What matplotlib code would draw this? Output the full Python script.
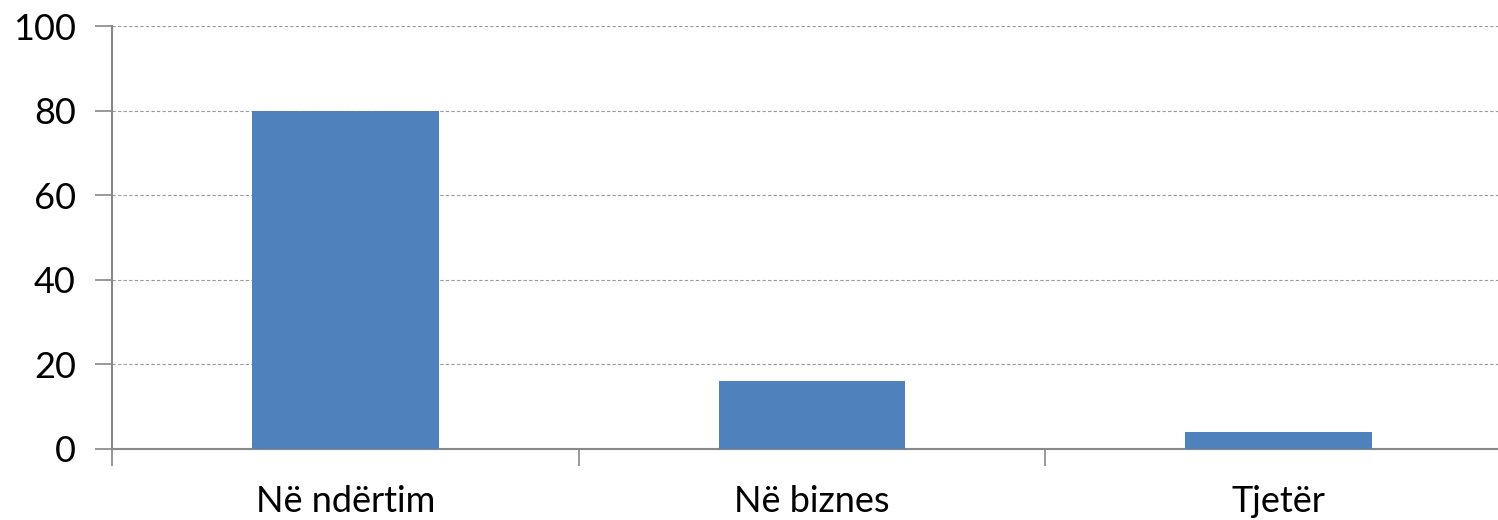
import numpy as np
import matplotlib.pyplot as plt

categories = ['Në ndërtim', 'Në biznes', 'Tjetër']
values = [80, 16, 4]
yticks = [0, 20, 40, 60, 80, 100]

plt.rcParams['font.family'] = ['Lato', 'DejaVu Sans']

fig = plt.figure(figsize=(14.98, 5.2), dpi=100)
ax = fig.add_axes([112 / 1498, 1 - 449 / 520, 1400 / 1498, 423 / 520])

x = np.arange(len(categories))
ax.bar(x, values, width=0.4, color='#4F81BD', zorder=3)

ax.set_xlim(-0.5, len(categories) - 0.5)
ax.set_ylim(0, 100)
ax.set_yticks(yticks)
ax.set_yticklabels([str(v) for v in yticks], fontsize=26)

# category labels between boundary ticks
ax.set_xticks(np.arange(len(categories) + 1) - 0.5)
ax.set_xticklabels([])
ax.set_xticks(x, minor=True)
ax.set_xticklabels(categories, minor=True, fontsize=26)
ax.tick_params(axis='x', which='minor', length=0, pad=26)
ax.tick_params(axis='x', which='major', length=12, color='#888888', width=1.2)
ax.tick_params(axis='y', length=12, color='#888888', width=1.2, pad=14)

ax.grid(axis='y', color='#999999', linestyle=(0, (3, 2)), linewidth=0.8, zorder=0)

for side in ['top', 'right']:
    ax.spines[side].set_visible(False)
for side in ['left', 'bottom']:
    ax.spines[side].set_color('#888888')
    ax.spines[side].set_linewidth(1.5)

fig.savefig('out.png', dpi=100)
